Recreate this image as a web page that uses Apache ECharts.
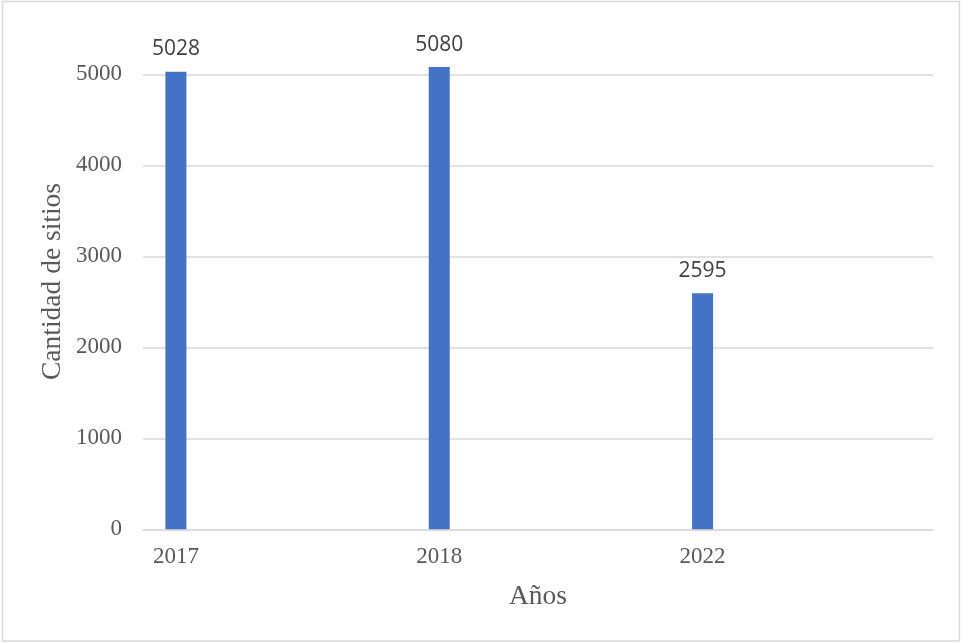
<!DOCTYPE html>
<html>
<head>
<meta charset="utf-8">
<script src="https://cdn.jsdelivr.net/npm/echarts@6/dist/echarts.min.js"></script>
<style>
  html, body { margin: 0; padding: 0; background: #ffffff; }
  #chart { width: 962px; height: 643px; }
</style>
</head>
<body>
<div id="chart"></div>
<script>
// Sitios contabilizados por año
const years = ['2017', '2018', '2022'];
const sitios = [5028, 5080, 2595];
const yTicks = [0, 1000, 2000, 3000, 4000, 5000];
const xTitle = 'Años';
const yTitle = 'Cantidad de sitios';

// Each year occupies a group of four slots on the category axis; the bar sits in the first one.
const slotsPerYear = 4;
const slots = [];
const slotValues = [];
years.forEach((y, i) => {
  for (let k = 0; k < slotsPerYear; k++) {
    slots.push(k === 0 ? y : '');
    slotValues.push(k === 0 ? sitios[i] : null);
  }
});

const serif = '"Liberation Serif", "Times New Roman", serif';
const chart = echarts.init(document.getElementById('chart'), null, { renderer: 'canvas' });

chart.setOption({
  animation: false,
  backgroundColor: '#ffffff',
  graphic: [{
    type: 'rect',
    shape: { x: 2.5, y: 1.5, width: 957, height: 639.5 },
    style: { fill: 'none', stroke: '#d9d9d9', lineWidth: 1.5 },
    silent: true
  }, {
    type: 'text',
    x: 53,
    y: 281.5,
    rotation: Math.PI / 2,
    silent: true,
    style: {
      text: yTitle,
      fill: '#595959',
      font: '27.5px ' + serif,
      align: 'center',
      verticalAlign: 'middle'
    }
  }],
  grid: { left: 143, right: 29, top: 74.3, bottom: 113.7, containLabel: false },
  xAxis: {
    type: 'category',
    data: slots,
    boundaryGap: true,
    axisLine: { show: true, lineStyle: { color: '#d9d9d9', width: 1.5 } },
    axisTick: { show: false },
    axisLabel: {
      interval: 0,
      color: '#595959',
      fontFamily: serif,
      fontSize: 23,
      margin: 16
    },
    name: xTitle,
    nameLocation: 'middle',
    nameGap: 53,
    nameTextStyle: { color: '#595959', fontFamily: serif, fontSize: 27.5 }
  },
  yAxis: {
    type: 'value',
    min: yTicks[0],
    max: yTicks[yTicks.length - 1],
    interval: 1000,
    axisLine: { show: false },
    axisTick: { show: false },
    splitLine: { show: true, lineStyle: { color: '#d9d9d9', width: 1.5 } },
    axisLabel: {
      color: '#595959',
      fontFamily: serif,
      fontSize: 23,
      margin: 21,
      formatter: v => String(v)
    }
  },
  series: [{
    type: 'bar',
    data: slotValues,
    barWidth: 21,
    clip: false,
    itemStyle: { color: '#4472c4' },
    label: {
      show: true,
      position: 'top',
      distance: 12,
      color: '#404040',
      fontFamily: '"Open Sans", "Liberation Sans", sans-serif',
      fontSize: 21,
      formatter: p => (p.value == null ? '' : String(p.value))
    }
  }]
});
</script>
</body>
</html>
